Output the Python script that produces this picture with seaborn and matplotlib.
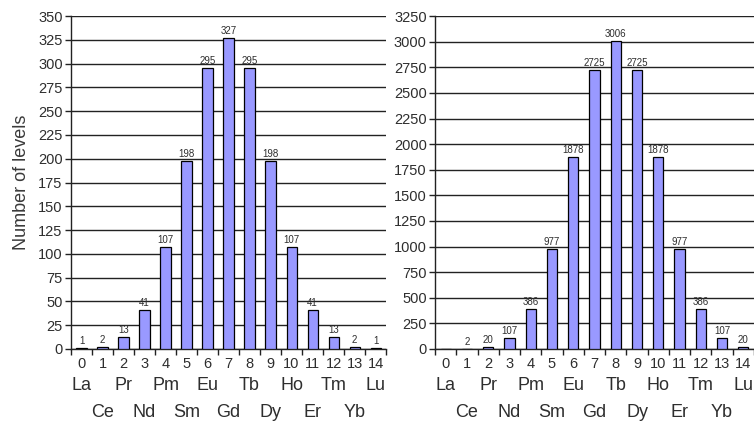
import matplotlib
matplotlib.use("Agg")
import matplotlib.pyplot as plt
import matplotlib.transforms as mtransforms
import numpy as np
import pandas as pd
import seaborn as sns

sns.set_style("white")
plt.rcParams["font.family"] = ["Liberation Sans", "DejaVu Sans"]

# f^n configurations, n = 0..14
n_electrons = list(range(15))
elements = ["La", "Ce", "Pr", "Nd", "Pm", "Sm", "Eu", "Gd",
            "Tb", "Dy", "Ho", "Er", "Tm", "Yb", "Lu"]

# number of J levels
levels_left = [1, 2, 13, 41, 107, 198, 295, 327, 295, 198, 107, 41, 13, 2, 1]
labels_left = ["1", "2", "13", "41", "107", "198", "295", "327", "295",
               "198", "107", "41", "13", "2", "1"]

# number of levels, second set
levels_right = [0, 2, 20, 107, 386, 977, 1878, 2725, 3006, 2725, 1878,
                977, 386, 107, 20]
labels_right = ["", "2", "20", "107", "386", "977", "1878", "2725", "3006",
                "2725", "1878", "977", "386", "107", "20"]

left_ticks = list(range(0, 351, 25))
right_ticks = list(range(0, 3251, 250))

BAR_COLOR = "#9999ff"
TEXT_COLOR = "#2e2e2e"

fig = plt.figure(figsize=(7.54, 4.23), dpi=100)
ax_l = fig.add_axes([0.0942, 0.175, 0.4178, 0.787])
ax_r = fig.add_axes([0.5769, 0.175, 0.4231, 0.787])


def draw_panel(ax, values, labels, yticks):
    df = pd.DataFrame({"n": n_electrons, "levels": values})
    sns.barplot(data=df, x="n", y="levels", order=n_electrons,
                color=BAR_COLOR, edgecolor="black", linewidth=0.9,
                width=0.48, saturation=1, ax=ax, zorder=3)
    ax.set_xlim(-0.5, len(n_electrons) - 0.5)
    ax.set_ylim(yticks[0], yticks[-1])
    ax.set_yticks(yticks)
    ax.set_yticklabels([str(t) for t in yticks], fontsize=10.5, color=TEXT_COLOR)

    # ticks at category boundaries, labels at category centres
    ax.set_xticks(np.arange(-0.5, len(n_electrons), 1.0))
    ax.set_xticklabels([])
    ax.set_xticks(n_electrons, minor=True)
    ax.set_xticklabels([str(n) for n in n_electrons], minor=True,
                       fontsize=10.5, color=TEXT_COLOR)
    ax.tick_params(axis="x", which="major", direction="out", length=4,
                   width=1, color="#222222", bottom=True)
    ax.tick_params(axis="x", which="minor", length=0, pad=5.5)
    ax.tick_params(axis="y", direction="out", length=4, width=1,
                   color="#222222", left=True, pad=2)

    ax.yaxis.grid(True, color="#222222", linewidth=1.0, zorder=0)
    ax.xaxis.grid(False)
    ax.set_axisbelow(True)
    for side in ("top", "right"):
        ax.spines[side].set_visible(False)
    for side in ("left", "bottom"):
        ax.spines[side].set_color("#222222")
        ax.spines[side].set_linewidth(1.0)
    ax.set_xlabel("")
    ax.set_ylabel("")

    # value labels above bars
    for x, v, lab in zip(n_electrons, values, labels):
        if lab:
            ax.annotate(lab, (x, v), xytext=(0, 1.5), textcoords="offset points",
                        ha="center", va="bottom", fontsize=7, color=TEXT_COLOR,
                        zorder=4)

    # element symbols in two staggered rows
    trans = mtransforms.blended_transform_factory(ax.transData, ax.transAxes)
    for x, el in zip(n_electrons, elements):
        offset = -26.5 if x % 2 == 0 else -46
        ax.annotate(el, (x, 0), xycoords=trans, xytext=(0, offset),
                    textcoords="offset points", ha="center", va="center",
                    fontsize=13, color=TEXT_COLOR, annotation_clip=False)


draw_panel(ax_l, levels_left, labels_left, left_ticks)
draw_panel(ax_r, levels_right, labels_right, right_ticks)

ax_l.set_ylabel("Number of levels", fontsize=13, color="#3a3a3a", labelpad=6)

fig.savefig("out.png", dpi=100, facecolor="white")
